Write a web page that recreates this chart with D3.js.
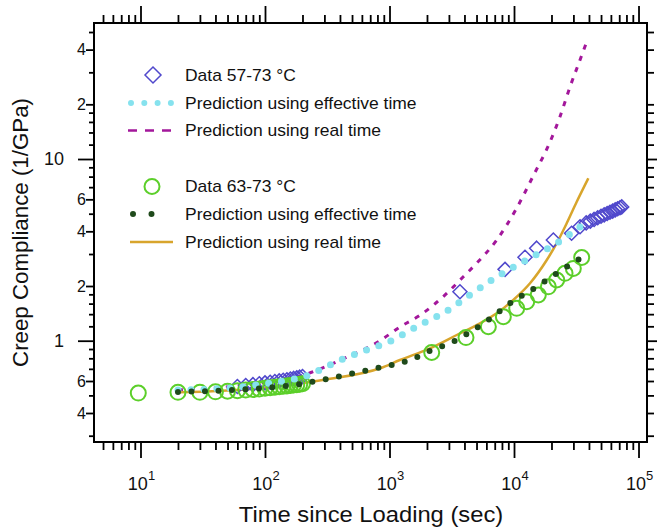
<!DOCTYPE html>
<html><head><meta charset="utf-8">
<script src="https://cdn.jsdelivr.net/npm/d3@7"></script>
<style>
html,body{margin:0;padding:0;background:#fff;}
svg{display:block;font-family:"Liberation Sans",Arial,Helvetica,sans-serif;}
</style></head><body>
<svg id="chart" width="657" height="532"></svg>
<script>
// ---------------- data ----------------
// Data 57-73 °C (diamonds)
const data57Time  = [60,70,80,90,100,110,120,130,140,150,160,170,180,190,200,
                     3680,8470,12250,15200,20700,29000,33900,
                     38000,41000,44000,47000,50000,53000,56000,59000,62000,65000,68000,71000,73300];
const data57Compl = [0.56,0.567,0.573,0.58,0.586,0.591,0.596,0.601,0.606,0.61,0.615,0.62,0.625,0.63,0.635,
                     1.86,2.47,2.88,3.23,3.58,3.90,4.24,
                     4.45,4.55,4.65,4.75,4.84,4.93,5.01,5.09,5.17,5.25,5.32,5.39,5.45];
// Prediction using effective time (57-73)
const predEff57Time  = [20,50,100,160,200,250,400,600,1000,1750,2800,4400,7300,12600,22000,35000];
const predEff57Compl = [0.535,0.548,0.58,0.61,0.63,0.67,0.78,0.87,0.99,1.22,1.44,1.78,2.25,2.78,3.44,4.3];
// Prediction using real time (57-73)
const predReal57Time  = [20,100,200,400,840,1213,1758,2877,3917,5015,7260,10510,14300,19450,23400,28200,33900,38400];
const predReal57Compl = [0.535,0.59,0.645,0.78,1.0,1.19,1.38,1.82,2.25,2.67,3.58,5.37,8.1,12.4,17.1,25.0,35.1,44.2];
// Data 63-73 °C (circles)
const data63Time  = [9.6,20,30,40,50,60,70,80,90,100,110,120,130,140,150,160,170,180,190,200,
                     2183,4115,6223,8210,10510,12650,15670,18870,22030,25700,29950,34970];
const data63Compl = [0.515,0.52,0.52,0.523,0.527,0.531,0.535,0.539,0.543,0.547,0.551,0.555,0.558,0.561,0.564,0.567,0.57,0.573,0.576,0.579,
                     0.861,1.04,1.194,1.355,1.508,1.639,1.784,1.98,2.158,2.35,2.50,2.87];
// Prediction using effective time (63-73)
const predEff63Time  = [20,100,169,285,512,891,1462,2183,3250,4710,6223,9290,15200,24170,34000];
const predEff63Compl = [0.522,0.55,0.57,0.608,0.662,0.719,0.783,0.889,0.987,1.145,1.30,1.606,1.98,2.45,2.84];
// Prediction using real time (63-73)
const predReal63Time  = [20,100,300,840,1213,2113,3467,5333,7260,9860,13450,18330,22030,26500,31900,39500];
const predReal63Compl = [0.52,0.55,0.61,0.705,0.783,0.908,1.075,1.247,1.415,1.675,2.07,2.78,3.44,4.43,5.82,7.83];

// ticks
const xMajorTicks = [10,100,1000,10000,100000];
const xTickExponents = ["1","2","3","4","5"];
const xMinorTicks = [5,6,7,8,9,20,30,40,50,60,70,80,90,200,300,400,500,600,700,800,900,
                     2000,3000,4000,5000,6000,7000,8000,9000,20000,30000,40000,50000,60000,70000,80000,90000];
const yDecadeTicks = [1,10];
const yDecadeLabels = ["1","10"];
const yLabeledTicks = [0.4,0.6,2,4,6,20,40];
const yLabeledLabels = ["4","6","2","4","6","2","4"];
const yMinorTicks = [0.3,0.5,0.7,0.8,0.9,1.2,1.4,1.6,1.8,3,5,7,8,9,12,14,16,18,30,50];

const legendLabels = ["Data 57-73 \u00B0C","Prediction using effective time","Prediction using real time",
                      "Data 63-73 \u00B0C","Prediction using effective time","Prediction using real time"];
const xTitle = "Time since Loading (sec)";
const yTitle = "Creep Compliance (1/GPa)";

// colours
const cDiamond = "#5048cc", cCyan = "#86e2ee", cMagenta = "#a3179b",
      cCircle = "#5ccf2a", cDark = "#1f4a1b", cGold = "#d8a52c";

// ---------------- layout ----------------
const L = 94, R = 647, T = 23, B = 442;
const STRETCH = 1.065;
const svg = d3.select("#chart");
const x = d3.scaleLog().domain([4.232, 117000]).range([L, R]);
const y = d3.scaleLog().domain([0.277, 56.05]).range([B, T]);

function stretch(sel){
  sel.each(function(){
    const w = this.getComputedTextLength();
    d3.select(this).attr("textLength", w*STRETCH).attr("lengthAdjust","spacingAndGlyphs");
  });
}
function styleAxis(g, fs){
  g.select(".domain").remove();
  g.selectAll(".tick line").attr("stroke","#000").attr("stroke-width",1.8);
  g.attr("font-family",null).attr("font-size",fs);
  g.selectAll("text").attr("fill","#111");
}

// bottom axis
svg.append("g").attr("transform",`translate(0,${B})`)
  .call(d3.axisBottom(x).tickValues(xMajorTicks).tickSize(16).tickFormat(""))
  .call(g=>styleAxis(g,10));
svg.append("g").attr("transform",`translate(0,${B})`)
  .call(d3.axisBottom(x).tickValues(xMinorTicks).tickSize(8).tickFormat(""))
  .call(g=>styleAxis(g,10));
// top axis
svg.append("g").attr("transform",`translate(0,${T})`)
  .call(d3.axisTop(x).tickValues(xMajorTicks).tickSize(17).tickFormat(""))
  .call(g=>styleAxis(g,10));
svg.append("g").attr("transform",`translate(0,${T})`)
  .call(d3.axisTop(x).tickValues(xMinorTicks).tickSize(8).tickFormat(""))
  .call(g=>styleAxis(g,10));
// left axis
svg.append("g").attr("transform",`translate(${L},0)`)
  .call(d3.axisLeft(y).tickValues(yDecadeTicks).tickSize(16).tickPadding(14).tickFormat((d,i)=>yDecadeLabels[i]))
  .call(g=>styleAxis(g,18));
svg.append("g").attr("transform",`translate(${L},0)`)
  .call(d3.axisLeft(y).tickValues(yLabeledTicks).tickSize(8).tickPadding(0).tickFormat((d,i)=>yLabeledLabels[i]))
  .call(g=>styleAxis(g,16));
svg.append("g").attr("transform",`translate(${L},0)`)
  .call(d3.axisLeft(y).tickValues(yMinorTicks).tickSize(5).tickFormat(""))
  .call(g=>styleAxis(g,10));
// right axis
svg.append("g").attr("transform",`translate(${R},0)`)
  .call(d3.axisRight(y).tickValues(yDecadeTicks).tickSize(10).tickFormat(""))
  .call(g=>styleAxis(g,10));
svg.append("g").attr("transform",`translate(${R},0)`)
  .call(d3.axisRight(y).tickValues(yLabeledTicks.concat(yMinorTicks)).tickSize(7).tickFormat(""))
  .call(g=>styleAxis(g,10));

// frame
svg.append("rect").attr("x",L).attr("y",T).attr("width",R-L).attr("height",B-T)
  .attr("fill","none").attr("stroke","#000").attr("stroke-width",2);

// x tick labels with superscripts
const xl = svg.append("g").selectAll("text").data(xMajorTicks).join("text")
  .attr("x",d=>x(d)+1).attr("y",490).attr("text-anchor","middle").attr("fill","#111");
xl.append("tspan").attr("font-size",18).text("10");
xl.append("tspan").attr("font-size",13).attr("dy",-10).text((d,i)=>xTickExponents[i]);

// titles
svg.append("text").attr("x",371).attr("y",522).attr("text-anchor","middle")
  .attr("font-size",22.3).attr("fill","#111").text(xTitle).call(stretch);
svg.append("text").attr("transform","translate(28,232.5) rotate(-90)").attr("text-anchor","middle")
  .attr("font-size",22.3).attr("fill","#111").text(yTitle);

// ---------------- series ----------------
const zip = (a,b)=>a.map((t,i)=>[t,b[i]]);
const line = d3.line().x(d=>x(d[0])).y(d=>y(d[1])).curve(d3.curveMonotoneX);
const plot = svg.append("g");

plot.append("path").datum(zip(predReal57Time,predReal57Compl)).attr("d",line)
  .attr("fill","none").attr("stroke",cMagenta).attr("stroke-width",3).attr("stroke-dasharray","5,7");
plot.append("path").datum(zip(predReal63Time,predReal63Compl)).attr("d",line)
  .attr("fill","none").attr("stroke",cGold).attr("stroke-width",2.5);

const diamondPath = "M0,-7L7,0L0,7L-7,0Z";
plot.append("g").selectAll("path").data(zip(data57Time,data57Compl)).join("path")
  .attr("d",diamondPath).attr("transform",d=>`translate(${x(d[0])},${y(d[1])})`)
  .attr("fill","none").attr("stroke",cDiamond).attr("stroke-width",1.5);
plot.append("g").selectAll("circle").data(zip(data63Time,data63Compl)).join("circle")
  .attr("cx",d=>x(d[0])).attr("cy",d=>y(d[1])).attr("r",7.5)
  .attr("fill","none").attr("stroke",cCircle).attr("stroke-width",2);

plot.append("path").datum(zip(predEff57Time,predEff57Compl)).attr("d",line)
  .attr("fill","none").attr("stroke",cCyan).attr("stroke-width",7)
  .attr("stroke-linecap","round").attr("stroke-dasharray","0,13");
plot.append("path").datum(zip(predEff63Time,predEff63Compl)).attr("d",line)
  .attr("fill","none").attr("stroke",cDark).attr("stroke-width",6)
  .attr("stroke-linecap","round").attr("stroke-dasharray","0,13.5");

// ---------------- legend ----------------
const lg = svg.append("g");
const rowY = [75, 103, 130.5, 186.5, 214, 242];
lg.append("path").attr("d","M0,-8L8,0L0,8L-8,0Z").attr("transform",`translate(153,${rowY[0]})`)
  .attr("fill","none").attr("stroke",cDiamond).attr("stroke-width",1.5);
lg.append("line").attr("x1",131).attr("x2",171).attr("y1",rowY[1]).attr("y2",rowY[1])
  .attr("stroke",cCyan).attr("stroke-width",6).attr("stroke-linecap","round").attr("stroke-dasharray","0,13.3");
lg.append("line").attr("x1",128).attr("x2",174).attr("y1",rowY[2]).attr("y2",rowY[2])
  .attr("stroke",cMagenta).attr("stroke-width",2.5).attr("stroke-dasharray","9,8");
lg.append("circle").attr("cx",152).attr("cy",rowY[3]).attr("r",7.5)
  .attr("fill","none").attr("stroke",cCircle).attr("stroke-width",2);
lg.append("line").attr("x1",133).attr("x2",170).attr("y1",rowY[4]).attr("y2",rowY[4])
  .attr("stroke",cDark).attr("stroke-width",6).attr("stroke-linecap","round").attr("stroke-dasharray","0,18.5");
lg.append("line").attr("x1",130).attr("x2",173).attr("y1",rowY[5]).attr("y2",rowY[5])
  .attr("stroke",cGold).attr("stroke-width",2.5);
lg.selectAll("text").data(legendLabels).join("text")
  .attr("x",185).attr("y",(d,i)=>rowY[i]+5.8).attr("font-size",16.4).attr("fill","#111")
  .text(d=>d).call(stretch);
</script>
</body></html>
